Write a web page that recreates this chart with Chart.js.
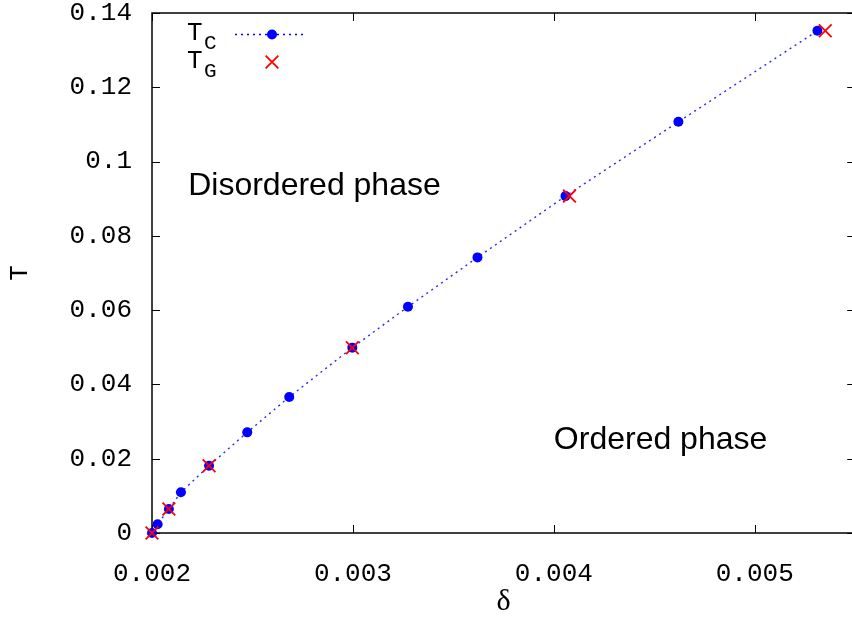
<!DOCTYPE html>
<html>
<head>
<meta charset="utf-8">
<script src="https://cdn.jsdelivr.net/npm/chart.js@4.4.1/dist/chart.umd.min.js"></script>
<style>
html, body { margin:0; padding:0; background:#fff; overflow:hidden; width:852px; height:620px; }
#wrap { position:absolute; left:0; top:0; width:866px; height:620px; }
</style>
</head>
<body>
<div id="wrap"><canvas id="chart" width="866" height="620"></canvas></div>
<script>
// T_C (blue dots, dotted line)
const deltaC = [0.002, 0.002028, 0.002084, 0.002144, 0.002284, 0.002474, 0.002683, 0.002997, 0.003274, 0.00362, 0.004058, 0.00462, 0.005312];
const tempC  = [0, 0.00234, 0.00646, 0.01096, 0.01812, 0.0271, 0.0366, 0.0499, 0.0609, 0.0742, 0.0907, 0.1107, 0.1352];
// T_G (red crosses)
const deltaG = [0.002, 0.002084, 0.002284, 0.002997, 0.004078, 0.005351];
const tempG  = [0, 0.00646, 0.01812, 0.0499, 0.0907, 0.1352];
// ticks
const xTicks = [0.002, 0.003, 0.004, 0.005];
const yTicks = [0, 0.02, 0.04, 0.06, 0.08, 0.1, 0.12, 0.14];

const mono = '"Liberation Mono", "DejaVu Sans Mono", monospace';
const blue = '#0000ff';
const red = '#ff0000';

// frame + inward ticks like gnuplot
const framePlugin = {
  id: 'frame',
  beforeDatasetsDraw(chart) {
    const ctx = chart.ctx;
    const a = chart.chartArea;
    const x = chart.scales.x, y = chart.scales.y;
    ctx.save();
    ctx.strokeStyle = '#000';
    ctx.lineWidth = 1.5;
    ctx.strokeRect(a.left, a.top, a.right - a.left, a.bottom - a.top);
    ctx.lineWidth = 1;
    ctx.beginPath();
    xTicks.forEach(v => {
      const px = Math.round(x.getPixelForValue(v)) + 0.5;
      ctx.moveTo(px, a.bottom); ctx.lineTo(px, a.bottom - 8);
      ctx.moveTo(px, a.top); ctx.lineTo(px, a.top + 8);
    });
    yTicks.forEach(v => {
      const py = Math.round(y.getPixelForValue(v)) + 0.5;
      ctx.moveTo(a.left, py); ctx.lineTo(a.left + 8, py);
      ctx.moveTo(a.right, py); ctx.lineTo(a.right - 8, py);
    });
    ctx.stroke();
    ctx.restore();
  }
};

// legend with subscripts + phase labels
const textPlugin = {
  id: 'texts',
  afterDraw(chart) {
    const ctx = chart.ctx;
    const x = chart.scales.x, y = chart.scales.y;
    ctx.save();
    ctx.fillStyle = '#000';
    ctx.textBaseline = 'middle';
    ctx.textAlign = 'left';
    ctx.font = '26px ' + mono;
    ctx.fillText('T', 187, 33);
    ctx.fillText('T', 187, 61);
    ctx.font = '21px ' + mono;
    ctx.fillText('C', 204, 43);
    ctx.fillText('G', 204, 71);

    // legend samples
    ctx.strokeStyle = blue;
    ctx.lineWidth = 1.4;
    ctx.setLineDash([2, 4]);
    ctx.beginPath();
    ctx.moveTo(235, 34.5); ctx.lineTo(307, 34.5);
    ctx.stroke();
    ctx.setLineDash([]);
    ctx.fillStyle = blue;
    ctx.beginPath(); ctx.arc(272, 34.5, 5, 0, Math.PI * 2); ctx.fill();
    ctx.strokeStyle = red;
    ctx.lineWidth = 1.8;
    Chart.helpers.drawPoint(ctx, {pointStyle: 'crossRot', radius: 9, borderWidth: 1.8}, 272, 62);

    // phase labels
    ctx.fillStyle = '#000';
    ctx.font = '32px "Liberation Sans", Arial, sans-serif';
    ctx.fillText('Disordered phase', x.getPixelForValue(0.00218), y.getPixelForValue(0.0934));
    ctx.fillText('Ordered phase', x.getPixelForValue(0.0040), y.getPixelForValue(0.025));
    ctx.restore();
  }
};

const config = {
  type: 'scatter',
  data: {
    datasets: [
      {
        label: 'T_G',
        data: deltaG.map((d, i) => ({x: d, y: tempG[i]})),
        pointStyle: 'crossRot',
        pointRadius: 9,
        borderColor: red,
        backgroundColor: red,
        pointBorderWidth: 1.8,
        showLine: false,
        clip: false,
        order: 0
      },
      {
        label: 'T_C',
        data: deltaC.map((d, i) => ({x: d, y: tempC[i]})),
        showLine: true,
        borderColor: 'rgba(0,0,255,0.85)',
        borderWidth: 1.4,
        borderDash: [2, 4],
        pointStyle: 'circle',
        pointRadius: 5,
        pointBorderWidth: 0,
        pointBackgroundColor: blue,
        clip: false,
        order: 1
      }
    ]
  },
  options: {
    responsive: false,
    animation: false,
    layout: { padding: { top: 13, right: 7, left: 0, bottom: 0 } },
    plugins: { legend: { display: false }, tooltip: { enabled: false } },
    scales: {
      x: {
        type: 'linear',
        min: 0.002,
        max: 0.0055,
        afterFit(scale) { scale.height = 87; scale.paddingLeft = 0; scale.paddingRight = 0; },
        afterBuildTicks(scale) { scale.ticks = xTicks.map(v => ({value: v})); },
        grid: { display: false, drawTicks: false },
        border: { display: false },
        ticks: {
          padding: 26,
          color: '#000',
          font: { family: mono, size: 26 },
          maxRotation: 0,
          callback: v => v.toFixed(3)
        },
        title: {
          display: true,
          text: 'δ',
          color: '#000',
          font: { family: '"Liberation Serif", "DejaVu Serif", serif', size: 30 },
          padding: { top: 0, bottom: 0 }
        }
      },
      y: {
        type: 'linear',
        min: 0,
        max: 0.14,
        afterFit(scale) { scale.width = 152; scale.paddingTop = 0; scale.paddingBottom = 0; },
        afterBuildTicks(scale) { scale.ticks = yTicks.map(v => ({value: v})); },
        grid: { display: false, drawTicks: false },
        border: { display: false },
        ticks: {
          padding: 20,
          color: '#000',
          font: { family: mono, size: 26 },
          callback: v => String(+v.toFixed(4))
        },
        title: {
          display: true,
          text: 'T',
          color: '#000',
          font: { family: mono, size: 26 },
          padding: { top: 5, bottom: 0 }
        }
      }
    }
  },
  plugins: [framePlugin, textPlugin]
};

const chart = new Chart(document.getElementById('chart'), config);
</script>
</body>
</html>
